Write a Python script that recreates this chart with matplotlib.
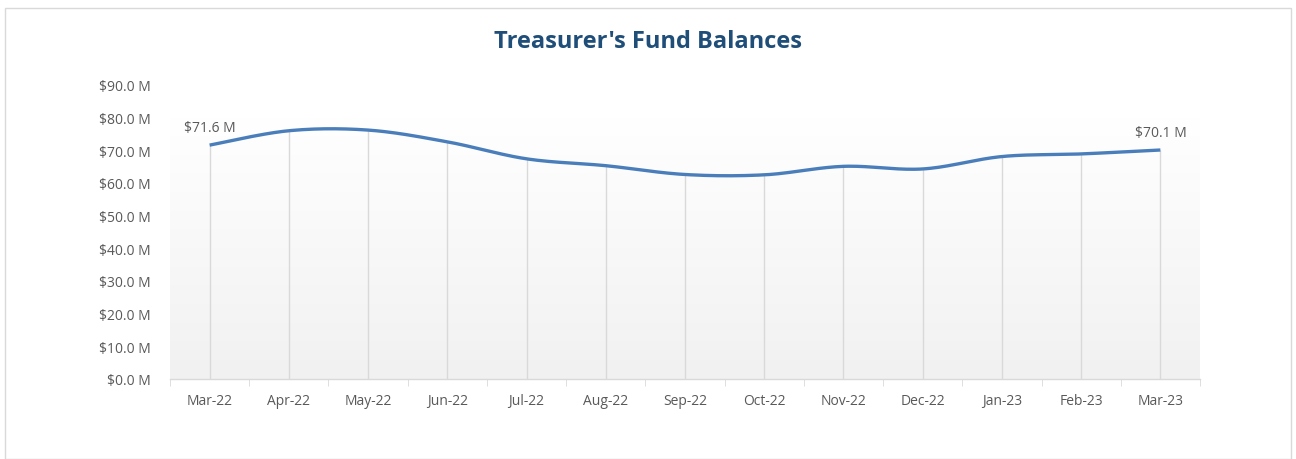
import numpy as np
import matplotlib
matplotlib.use("Agg")
import matplotlib.pyplot as plt
from matplotlib.patches import Rectangle

# monthly fund balances, $M
months = ["Mar-22", "Apr-22", "May-22", "Jun-22", "Jul-22", "Aug-22", "Sep-22",
          "Oct-22", "Nov-22", "Dec-22", "Jan-23", "Feb-23", "Mar-23"]
balances = [71.6, 76.0, 76.2, 72.6, 67.4, 65.3, 62.6, 62.5, 65.1, 64.3, 68.1, 68.9, 70.1]
yticks = np.arange(0, 91, 10)

LINE = "#4A7EBB"
GRID = "#D9D9D9"
TEXT = "#595959"
plt.rcParams["font.family"] = ["Open Sans", "DejaVu Sans"]


def smooth(xs, ys, n=30):
    """Excel-style smoothed line: cubic Bezier through each pair of points."""
    xs, ys = np.asarray(xs, float), np.asarray(ys, float)
    px = np.concatenate([[xs[0]], xs, [xs[-1]]])
    py = np.concatenate([[ys[0]], ys, [ys[-1]]])
    t = np.linspace(0, 1, n)[:, None]
    outx, outy = [], []
    for i in range(1, len(px) - 2):
        p0 = np.array([px[i], py[i]]); p3 = np.array([px[i + 1], py[i + 1]])
        c1 = p0 + (np.array([px[i + 1], py[i + 1]]) - np.array([px[i - 1], py[i - 1]])) / 6
        c2 = p3 - (np.array([px[i + 2], py[i + 2]]) - np.array([px[i], py[i]])) / 6
        b = ((1 - t) ** 3) * p0 + 3 * ((1 - t) ** 2) * t * c1 + 3 * (1 - t) * t ** 2 * c2 + t ** 3 * p3
        outx.append(b[:, 0]); outy.append(b[:, 1])
    return np.concatenate(outx), np.concatenate(outy)


fig = plt.figure(figsize=(12.96, 4.6), dpi=100)
fig.patches.append(Rectangle((5 / 1296, 0), 1 - 10 / 1296, 1 - 9 / 460, transform=fig.transFigure,
                             fill=False, edgecolor="#D9D9D9", lw=1.0))
ax = fig.add_axes([170 / 1296, 1 - 380 / 460, 1030 / 1296, 294 / 460])

x = np.arange(len(months))
ax.set_xlim(-0.5, len(months) - 0.5)
ax.set_ylim(0, 90)

# plot-area gradient: light grey at bottom -> white at top
grad = np.linspace(0.0, 1.0, 256)[:, None]
ax.imshow(grad, extent=(-0.5, len(months) - 0.5, 0, 80), aspect="auto",
          cmap=matplotlib.colors.LinearSegmentedColormap.from_list("g", ["#F1F1F1", "#FFFFFF"]),
          zorder=0, origin="lower")

# drop lines from each point down to the axis
ax.vlines(x, 0, balances, color=GRID, lw=1.0, zorder=1)

sx, sy = smooth(x, balances)
ax.plot(sx, sy, color=LINE, lw=2.4, solid_capstyle="butt", zorder=3)

ax.annotate(f"${balances[0]:.1f} M", (x[0], balances[0]), xytext=(0, 7),
            textcoords="offset points", ha="center", va="bottom", fontsize=10, color=TEXT)
ax.annotate(f"${balances[-1]:.1f} M", (x[-1], balances[-1]), xytext=(0, 7),
            textcoords="offset points", ha="center", va="bottom", fontsize=10, color=TEXT)

for s in ["top", "right", "left"]:
    ax.spines[s].set_visible(False)
ax.spines["bottom"].set_color(GRID)
ax.spines["bottom"].set_linewidth(1.0)

ax.set_yticks(yticks)
ax.set_yticklabels([f"${v:.1f} M" for v in yticks], fontsize=10, color=TEXT)
ax.tick_params(axis="y", length=0, pad=14)

ax.set_xticks(x)
ax.set_xticklabels(months, fontsize=10, color=TEXT)
ax.set_xticks(np.arange(-0.5, len(months)), minor=True)
ax.tick_params(axis="x", which="major", length=0, pad=10)
ax.tick_params(axis="x", which="minor", length=5, color=GRID, direction="out")

fig.text(0.5, 1 - 42 / 460, "Treasurer's Fund Balances", ha="center", va="center",
         fontsize=17, fontweight="bold", color="#1F4E79")

fig.savefig("out.png", dpi=100)
